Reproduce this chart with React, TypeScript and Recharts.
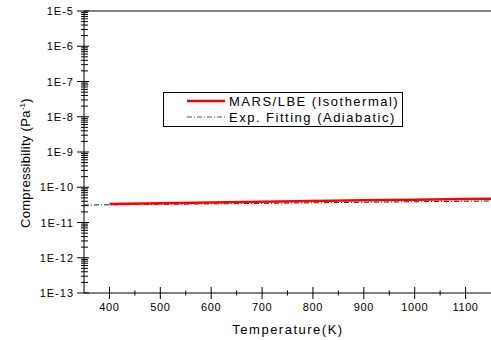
import { LineChart, Line, XAxis, YAxis, Legend, Label, ReferenceLine } from 'recharts'

const temps = [350, 400, 500, 600, 700, 800, 900, 1000, 1100, 1150]
const marsLbe = [null, 3.35e-11, 3.5e-11, 3.7e-11, 3.9e-11, 4.1e-11, 4.3e-11, 4.45e-11, 4.62e-11, 4.72e-11]
const expFit = [3.13e-11, 3.18e-11, 3.28e-11, 3.38e-11, 3.5e-11, 3.62e-11, 3.75e-11, 3.88e-11, 4.0e-11, 4.07e-11]

const xTicks = [400, 450, 500, 550, 600, 650, 700, 750, 800, 850, 900, 950, 1000, 1050, 1100]
const yDecades = [1e-13, 1e-12, 1e-11, 1e-10, 1e-9, 1e-8, 1e-7, 1e-6, 1e-5]
const yTicks = yDecades.flatMap((d, i) =>
  i === yDecades.length - 1 ? [d] : [1, 2, 3, 4, 5, 6, 7, 8, 9].map((m) => m * d)
)

const data = temps.map((t, i) => ({ t, mars: marsLbe[i], fit: expFit[i] }))

const FONT = '"Liberation Sans", Arial, sans-serif'

function isMajor(v: number) {
  const l = Math.log10(v)
  return Math.abs(l - Math.round(l)) < 1e-6
}

function YTick(props: any) {
  const { x, y, payload } = props
  const v = payload.value as number
  if (isMajor(v)) {
    const e = Math.round(Math.log10(v))
    return (
      <g>
        <line x1={x - 7} x2={x + 5} y1={y} y2={y} stroke="#000" />
        <text x={x - 10} y={y + 4} textAnchor="end" fontSize={11} letterSpacing={1} fontFamily={FONT} fill="#000">
          {`1E${e}`}
        </text>
      </g>
    )
  }
  return <line x1={x - 3} x2={x + 4} y1={y} y2={y} stroke="#000" />
}

function XTick(props: any) {
  const { x, y, payload } = props
  const v = payload.value as number
  if (v % 100 === 0) {
    return (
      <g>
        <line x1={x} x2={x} y1={y - 6} y2={y + 6} stroke="#000" />
        <text x={x} y={y + 18} textAnchor="middle" fontSize={11} letterSpacing={0.6} fontFamily={FONT} fill="#000">
          {v}
        </text>
      </g>
    )
  }
  return <line x1={x} x2={x} y1={y - 2.5} y2={y + 2.5} stroke="#000" />
}

function LegendBox() {
  const row = { display: 'flex', alignItems: 'center', height: 16 }
  const txt = { fontFamily: FONT, fontSize: 13, letterSpacing: 1.5, color: '#000', marginLeft: 4, whiteSpace: 'nowrap' as const }
  return (
    <div style={{ border: '1px solid #000', width: 240, height: 35, boxSizing: 'border-box', paddingLeft: 23, paddingTop: 0, background: '#fff' }}>
      <div style={row}>
        <svg width={38} height={6}>
          <line x1={0} x2={38} y1={3} y2={3} stroke="#ff0000" strokeWidth={2.5} />
        </svg>
        <span style={txt}>MARS/LBE (Isothermal)</span>
      </div>
      <div style={row}>
        <svg width={38} height={6}>
          <line x1={0} x2={38} y1={3} y2={3} stroke="#555" strokeWidth={1} strokeDasharray="5 2 1 2" />
        </svg>
        <span style={txt}>Exp. Fitting (Adiabatic)</span>
      </div>
    </div>
  )
}

export default function App() {
  return (
    <div style={{ position: 'absolute', left: 0, top: 0, width: 491, height: 340, overflow: 'hidden', background: '#fff' }}>
      <LineChart width={491} height={340} data={data} margin={{ top: 11, right: 0, bottom: 0, left: 0 }}>
        <XAxis
          dataKey="t"
          type="number"
          domain={[350, 1150]}
          allowDataOverflow
          ticks={xTicks}
          interval={0}
          tickSize={0}
          tickMargin={0}
          tick={<XTick />}
          height={47}
          axisLine={{ stroke: '#000' }}
        >
          <Label
            content={() => (
              <text x={288} y={333.5} textAnchor="middle" fontSize={13} letterSpacing={1.5} fontFamily={FONT} fill="#000">
                Temperature(K)
              </text>
            )}
          />
        </XAxis>
        <YAxis
          type="number"
          scale="log"
          domain={[1e-13, 1e-5]}
          allowDataOverflow
          ticks={yTicks}
          interval={0}
          tickSize={0}
          tickMargin={0}
          tick={<YTick />}
          width={84}
          axisLine={{ stroke: '#000' }}
        >
          <Label
            content={() => (
              <text
                x={30}
                y={163}
                transform="rotate(-90, 30, 163)"
                textAnchor="middle"
                fontSize={13}
                letterSpacing={0.3}
                fontFamily={FONT}
                fill="#000"
              >
                Compressibility (Pa
                <tspan fontSize={8} dy={-5}>-1</tspan>
                <tspan dy={5}>)</tspan>
              </text>
            )}
          />
        </YAxis>
        <ReferenceLine y={1e-5} stroke="#000" ifOverflow="visible" />
        <Legend
          layout="horizontal"
          verticalAlign="middle"
          align="center"
          content={() => <LegendBox />}
          wrapperStyle={{ left: 163, top: 92, width: 240, height: 35 }}
        />
        <Line
          dataKey="fit"
          stroke="#222"
          strokeWidth={1}
          strokeDasharray="5 2 1 2"
          dot={false}
          isAnimationActive={false}
          legendType="none"
        />
        <Line
          dataKey="mars"
          stroke="#ff0000"
          strokeWidth={2.5}
          dot={false}
          isAnimationActive={false}
          legendType="none"
        />
      </LineChart>
    </div>
  )
}
